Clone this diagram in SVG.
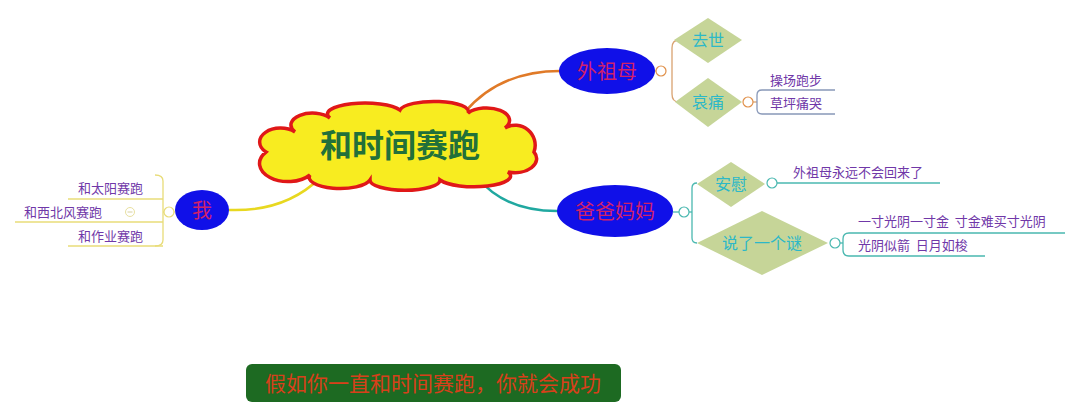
<svg xmlns="http://www.w3.org/2000/svg" width="1080" height="417" viewBox="0 0 1080 417">
<style>
text{font-family:"Noto Sans CJK SC","Liberation Sans",sans-serif;dominant-baseline:central;}
.ell{fill:#1010e8;}
.etxt{fill:#d0206a;font-size:20px;text-anchor:middle;}
.dia{fill:#c6d598;}
.dtxt{fill:#2cb8c8;font-size:16px;text-anchor:middle;}
.leaf{fill:#7038a8;font-size:13px;}
.c{fill:#fff;stroke-width:1.2;}
.ln{fill:none;stroke-width:1.3;}
</style>
<rect width="1080" height="417" fill="#fff"/>
<g id="connectors">
  <path d="M465,112 Q500,71 560,71" fill="none" stroke="#e07a28" stroke-width="2.5"/>
  <path d="M477,177 Q505,212 560,211" fill="none" stroke="#20a8a0" stroke-width="2.5"/>
  <path d="M229,210 Q285,212 320,178" fill="none" stroke="#e8d820" stroke-width="2.5"/>
  <g stroke="#d9a270" class="ln">
    <path d="M655,71 H666"/>
    <path d="M679,40 Q672,40 672,48 V94 Q672,102 679,102"/>
    <path d="M753,102 H757"/>
  </g>
  <circle cx="661" cy="71" r="5" class="c" stroke="#e0904a"/>
  <circle cx="748" cy="102" r="5" class="c" stroke="#e0904a"/>
  <g stroke="#8898b8" class="ln">
    <path d="M835,90 H762 Q757,90 757,95 V109 Q757,114 762,114 H835"/>
  </g>
  <g stroke="#4ab8b0" class="ln">
    <path d="M673,212 H679"/>
    <path d="M689,212 H692"/>
    <path d="M697,183 Q692,183 692,188 V238 Q692,243 697,243"/>
    <path d="M777,183 H940"/>
    <path d="M840,243 H843"/>
    <path d="M1065,233 H849 Q843,233 843,239 V250 Q843,256 849,256 H985"/>
  </g>
  <circle cx="684" cy="212" r="5" class="c" stroke="#4ab8b0"/>
  <circle cx="772" cy="183" r="5" class="c" stroke="#4ab8b0"/>
  <circle cx="835" cy="243" r="5" class="c" stroke="#4ab8b0"/>
  <g stroke="#e8dc78" class="ln">
    <path d="M175,212 H163"/>
    <path d="M155,175 Q163,175 163,181 V240 Q163,246 155,246"/>
    <path d="M163,199 H68"/>
    <path d="M163,222 H15"/>
    <path d="M163,246 H68"/>
  </g>
  <circle cx="169" cy="212" r="5" class="c" stroke="#e8dc78"/>
  <circle cx="130" cy="212" r="4.5" fill="#fff" stroke="#e8e0a0" stroke-width="1"/>
  <path d="M127.5,212 H132.5" stroke="#d8d0a0" stroke-width="1"/>
</g>
<g id="center">
  <path d="M295,132 A18,10 0 0 1 330,118 A34,10 0 0 1 400,110 A34,10 0 0 1 468,113 A22,12 0 0 1 505,128 A20,20 0 0 1 534,152 A22,14 0 0 1 508,172 A34,10 0 0 1 440,180 A34,10 0 0 1 370,180 A28,10 0 0 1 310,175 A22,14 0 0 1 266,152 A18,12 0 0 1 295,132 Z" fill="#f8ec20" stroke="#e01818" stroke-width="3.5"/>
  <text x="400" y="143" font-size="32" font-weight="bold" fill="#22703a" text-anchor="middle">和时间赛跑</text>
</g>
<g id="waizumu">
  <ellipse cx="607" cy="71" rx="48" ry="23" class="ell"/>
  <text x="607" y="70" class="etxt">外祖母</text>
</g>
<g id="qushi">
  <polygon points="674,40 708,18 742,40 708,63" class="dia"/>
  <text x="708" y="39" class="dtxt" font-size="15">去世</text>
</g>
<g id="aitong">
  <polygon points="675,102 708,78 742,102 708,127" class="dia"/>
  <text x="708" y="101" class="dtxt" font-size="15">哀痛</text>
</g>
<g id="leaf-caochang">
  <text x="770" y="79" class="leaf">操场跑步</text>
</g>
<g id="leaf-caoping">
  <text x="770" y="102" class="leaf">草坪痛哭</text>
</g>
<g id="babamama">
  <ellipse cx="615" cy="211" rx="58" ry="26" class="ell"/>
  <text x="615" y="210" class="etxt">爸爸妈妈</text>
</g>
<g id="anwei">
  <polygon points="697,184 731,162 765,184 731,207" class="dia"/>
  <text x="731" y="183" class="dtxt">安慰</text>
</g>
<g id="shuomi">
  <polygon points="697,243 762,211 828,243 762,275" class="dia"/>
  <text x="762" y="242" class="dtxt">说了一个谜</text>
</g>
<g id="leaf-waizumu">
  <text x="793" y="171" class="leaf">外祖母永远不会回来了</text>
</g>
<g id="leaf-yicun">
  <text x="858" y="220" class="leaf" xml:space="preserve">一寸光阴一寸金  寸金难买寸光阴</text>
</g>
<g id="leaf-guangyin">
  <text x="858" y="244" class="leaf" xml:space="preserve">光阴似箭  日月如梭</text>
</g>
<g id="wo">
  <ellipse cx="202" cy="210" rx="27" ry="20" class="ell"/>
  <text x="202" y="209" class="etxt">我</text>
</g>
<g id="leaf-taiyang">
  <text x="143" y="187" class="leaf" text-anchor="end">和太阳赛跑</text>
</g>
<g id="leaf-xibeifeng">
  <text x="24" y="211" class="leaf">和西北风赛跑</text>
</g>
<g id="leaf-zuoye">
  <text x="143" y="235" class="leaf" text-anchor="end">和作业赛跑</text>
</g>
<g id="banner">
  <rect x="246" y="364" width="375" height="38" rx="6" fill="#1d6a22"/>
  <text x="433" y="382" font-size="21" fill="#d8401a" text-anchor="middle">假如你一直和时间赛跑，你就会成功</text>
</g>
</svg>
